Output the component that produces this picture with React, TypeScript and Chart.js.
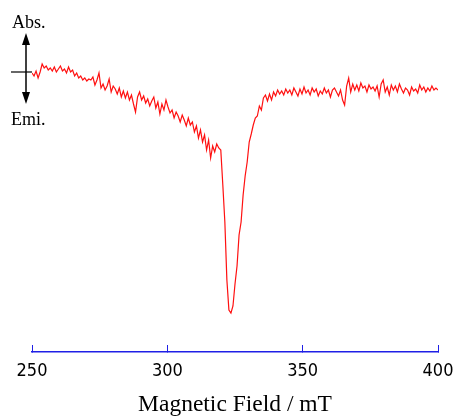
import React, { useEffect, useRef } from "react";
import { Chart, registerables } from "chart.js";

Chart.register(...registerables);

// Magnetic field sampling (mT)
const FIELD_START = 250;
const FIELD_STEP = 0.75;
// X axis tick labels
const X_TICKS = [250, 300, 350, 400];
const X_TITLE = "Magnetic Field / mT";
const ABS_LABEL = "Abs.";
const EMI_LABEL = "Emi.";

// Signal intensity (arbitrary units, 0 = baseline, positive = absorption)
const signal = [
  -1, -4, 1, -6, 0, 8, 4, 6, 2, 4,
  1, 5, 0, 3, 6, 1, 3, -1, 5, 0,
  2, -4, -1, -6, -4, -8, -6, -9, -7, -8,
  -5, -13, -8, -1, -16, -12, -18, -14, -7, -20,
  -14, -17, -22, -16, -25, -19, -26, -20, -28, -23,
  -32, -40, -25, -20, -28, -24, -31, -27, -34, -29,
  -25, -36, -30, -42, -32, -38, -28, -35, -41, -38,
  -46, -40, -44, -50, -43, -48, -54, -46, -53, -50,
  -60, -54, -66, -58, -70, -63, -78, -68, -86, -74,
  -80, -72, -76, -78, -113, -150, -208, -238, -241, -234,
  -212, -194, -163, -150, -123, -104, -90, -70, -62, -53,
  -46, -44, -34, -38, -26, -23, -29, -22, -28, -20,
  -24, -18, -22, -19, -23, -17, -21, -18, -23, -16,
  -20, -24, -17, -22, -15, -21, -18, -23, -16, -20,
  -17, -24, -19, -22, -16, -21, -18, -25, -18, -16,
  -20, -24, -18, -28, -33, -14, -6, -20, -12, -18,
  -13, -19, -11, -16, -14, -20, -13, -17, -15, -19,
  -14, -25, -12, -8, -20, -15, -23, -13, -18, -14,
  -20, -12, -17, -21, -16, -18, -23, -15, -19, -17,
  -21, -13, -18, -15, -20, -16, -19, -14, -18, -16,
  -18,
];

const points = signal.map((v, i) => ({ x: FIELD_START + FIELD_STEP * i, y: v }));

const AXIS_BLUE = "#1f1fe6";
const SERIF = '"Liberation Serif", "Times New Roman", Times, serif';

const annotationPlugin = {
  id: "absEmi",
  afterDraw(chart: any) {
    const ctx = chart.ctx;
    const y0 = chart.scales.y.getPixelForValue(0);
    const left = chart.chartArea.left;
    ctx.save();
    ctx.strokeStyle = "#000";
    ctx.fillStyle = "#000";
    ctx.lineWidth = 1.2;
    // baseline marker
    ctx.beginPath();
    ctx.moveTo(11, y0);
    ctx.lineTo(left, y0);
    ctx.stroke();
    // double arrow
    const ax = 26;
    const top = 33;
    const bottom = 104;
    ctx.lineWidth = 1.5;
    ctx.beginPath();
    ctx.moveTo(ax, top + 8);
    ctx.lineTo(ax, bottom - 8);
    ctx.stroke();
    ctx.beginPath();
    ctx.moveTo(ax, top);
    ctx.lineTo(ax - 4, top + 12);
    ctx.lineTo(ax + 4, top + 12);
    ctx.closePath();
    ctx.fill();
    ctx.beginPath();
    ctx.moveTo(ax, bottom);
    ctx.lineTo(ax - 4, bottom - 12);
    ctx.lineTo(ax + 4, bottom - 12);
    ctx.closePath();
    ctx.fill();
    // labels
    ctx.font = "18px " + SERIF;
    ctx.textAlign = "left";
    ctx.textBaseline = "alphabetic";
    ctx.fillText(ABS_LABEL, 12, 28);
    ctx.fillText(EMI_LABEL, 11, 125);
    ctx.restore();
  },
};

export default function App() {
  const canvasRef = useRef<HTMLCanvasElement | null>(null);

  useEffect(() => {
    if (!canvasRef.current) return;
    const chart = new Chart(canvasRef.current, {
      type: "line",
      data: {
        datasets: [
          {
            data: points,
            borderColor: "#ff1010",
            borderWidth: 1.2,
            pointRadius: 0,
            tension: 0,
            fill: false,
          },
        ],
      },
      options: {
        animation: false,
        responsive: false,
        devicePixelRatio: 1,
        layout: { padding: { left: 32, right: 16, top: 10, bottom: 0 } },
        plugins: {
          legend: { display: false },
          tooltip: { enabled: false },
        },
        scales: {
          x: {
            type: "linear",
            position: "bottom",
            min: X_TICKS[0],
            max: X_TICKS[X_TICKS.length - 1],
            afterBuildTicks: (scale: any) => {
              scale.ticks = X_TICKS.map((v) => ({ value: v }));
            },
            afterFit: (scale: any) => {
              scale.height = 65;
              scale.paddingLeft = 0;
              scale.paddingRight = 0;
            },
            border: { display: true, color: AXIS_BLUE, width: 1.5 },
            grid: {
              display: true,
              drawOnChartArea: false,
              drawTicks: true,
              tickLength: -7,
              color: AXIS_BLUE,
              lineWidth: 1,
            },
            ticks: {
              color: "#000",
              padding: 16,
              maxRotation: 0,
              font: {
                family: '"Liberation Sans Narrow", "DejaVu Sans Condensed", "Liberation Sans", sans-serif',
                size: 18,
              },
            },
            title: {
              display: true,
              text: X_TITLE,
              color: "#000",
              padding: { top: 4, bottom: -2 },
              font: { family: SERIF, size: 23.5, weight: "normal" },
            },
          },
          y: {
            type: "linear",
            display: false,
            min: -280,
            max: 62,
          },
        },
      },
      plugins: [annotationPlugin],
    });
    return () => chart.destroy();
  }, []);

  return (
    <div style={{ position: "fixed", left: 0, top: 0, width: 454, height: 417, background: "#fff" }}>
      <canvas ref={canvasRef} width={454} height={417} />
    </div>
  );
}
